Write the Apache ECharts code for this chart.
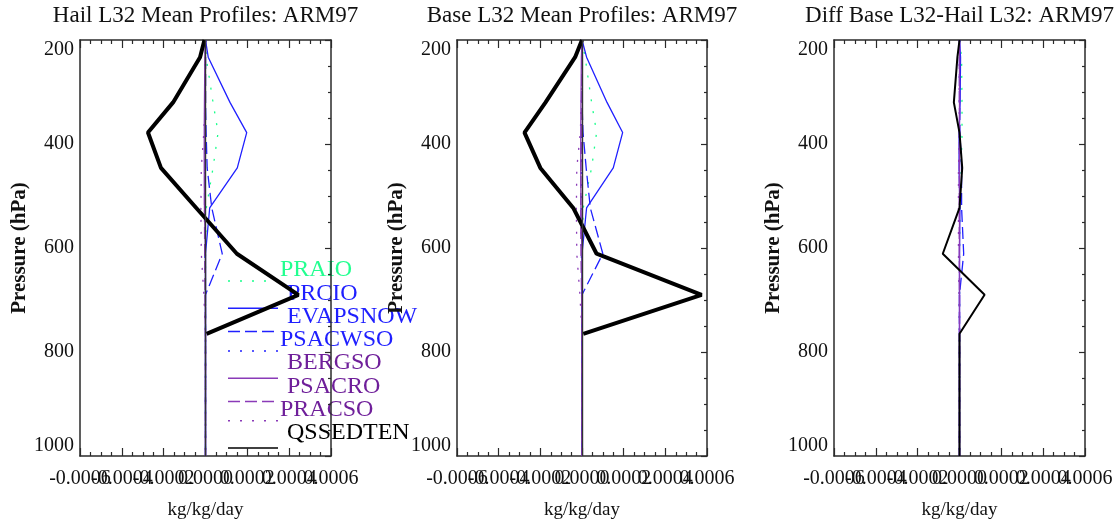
<!DOCTYPE html>
<html>
<head>
<meta charset="utf-8">
<title>ARM97 mean profiles</title>
<script src="https://cdn.jsdelivr.net/npm/echarts@6/dist/echarts.min.js"></script>
<style>
  html, body { margin: 0; padding: 0; background: #fff; }
  #main { width: 1114px; height: 521px; }
</style>
</head>
<body>
<div id="main"></div>
<script>
// pressure levels (hPa) shared by every profile
var pressure = [200, 233, 320, 378, 446, 523, 611, 690, 765, 1000]
var processes = ['PRAIO', 'PRCIO', 'EVAPSNOW', 'PSACWSO', 'BERGSO', 'PSACRO', 'PRACSO', 'QSSEDTEN']
var panelTitles = ['Hail L32 Mean Profiles: ARM97', 'Base L32 Mean Profiles: ARM97', 'Diff Base L32-Hail L32: ARM97']
var xTickLabels = ['-0.0006', '-0.0004', '-0.0002', '0.0000', '0.0002', '0.0004', '0.0006']

// rows follow processes, columns follow pressure (kg/kg/day)
var hailRates = [
  [0, 0.000003, 0.000036, 0.00006, 0.000036, 0.000004, 0, 0, 0, 0],
  [0, 0.000013, 0.000117, 0.000197, 0.000152, 0.00002, 0, 0, 0, 0],
  [0, 0, 0, 0.000003, 0.000008, 0.00003, 0.00008, 0, 0, 0],
  [0, 0, -0.000002, -0.000003, -0.000004, -0.000004, -0.000003, 0, 0, 0],
  [0, -0.000003, -0.000005, -0.000006, -0.000006, -0.000005, 0, 0, 0, 0],
  [0, 0, 0, -0.000002, -0.000004, -0.000005, -0.000004, -0.000002, 0, 0],
  [0, 0, -0.000002, -0.000008, -0.00002, -0.000022, -0.00002, -0.000008, 0, 0],
  [-0.000005, -0.000026, -0.000155, -0.000275, -0.000213, -0.000044, 0.00015, 0.000444, 0.000005, null]
]
var baseRates = [
  [0, 0.000015, 0.000046, 0.00007, 0.000046, 0.000006, 0, 0, 0, 0],
  [0, 0.000022, 0.00012, 0.000195, 0.00015, 0.000022, 0, 0, 0, 0],
  [0, 0, 0, 0.000005, 0.00002, 0.00004, 0.0001, 0, 0, 0],
  [0, 0, -0.000002, -0.000003, -0.000004, -0.000004, -0.000003, 0, 0, 0],
  [0, -0.000003, -0.000005, -0.000006, -0.000006, -0.000005, 0, 0, 0, 0],
  [0, 0, 0, -0.000002, -0.000005, -0.000006, -0.000005, -0.000002, 0, 0],
  [0, 0, -0.000003, -0.000008, -0.000025, -0.000027, -0.000025, -0.00001, 0, 0],
  [0, -0.000033, -0.000175, -0.000276, -0.0002, -0.000042, 0.00007, 0.000574, 0.000006, null]
]
var diffRates = [
  [0, 0.00001, 0.000012, 0.000012, 0.000008, 0.000002, 0, 0, 0, 0],
  [0, 0.000005, 0.000003, -0.000002, -0.000002, 0.000002, 0, 0, 0, 0],
  [0, 0, 0, 0.000002, 0.00001, 0.00001, 0.00002, 0, 0, 0],
  [0, 0, 0, 0, 0, 0, 0, 0, 0, 0],
  [0, 0, 0, 0, 0, 0, 0, 0, 0, 0],
  [0, 0, 0, 0, -0.000001, -0.000001, -0.000001, 0, 0, 0],
  [0, 0, -0.000001, 0, -0.000005, -0.000005, -0.000005, -0.000002, 0, 0],
  [0, -0.00001, -0.000027, 0, 0.000013, 0, -0.00008, 0.00012, 0, 0]
]

var serif = "'Liberation Serif', 'Times New Roman', serif"
var lineColors = ['#19ff8c', '#2020ff', '#2020ff', '#2020ff', '#8a3ab8', '#8a3ab8', '#8a3ab8', '#000000']
var textColors = ['#22ff90', '#1f1fff', '#1f1fff', '#1f1fff', '#6f1f9a', '#6f1f9a', '#6f1f9a', '#000000']
var lineTypes = [[2, 10], 'solid', [12, 5], [2, 10], 'solid', [12, 5], [2, 10], 'solid']
var gridLefts = [80, 457, 834]
var gridWidths = [251, 250, 251]
var axisColor = '#2a2a2a'

var myChart = echarts.init(document.getElementById('main'))
var grid = [], xAxis = [], yAxis = [], title = [], series = []

function xLabel (v, odd) {
  var idx = Math.round(v / 0.0002) + 3
  return idx % 2 == (odd ? 1 : 0) ? xTickLabels[idx] : ''
}

var panels = [hailRates, baseRates, diffRates]
panels.forEach(function (rates, i) {
  grid.push({ left: gridLefts[i], top: 40, width: gridWidths[i], height: 416, containLabel: false, outerBoundsMode: 'none' })
  title.push({
    text: panelTitles[i], left: gridLefts[i] + gridWidths[i] / 2, top: 4, textAlign: 'center', padding: 0,
    textStyle: { fontFamily: serif, fontSize: 23, fontWeight: 'normal', color: '#111' }
  })
  // bottom x axis, even tick labels
  xAxis.push({
    type: 'value', gridIndex: i, position: 'bottom', min: -0.0006, max: 0.0006, interval: 0.0002,
    name: 'kg/kg/day', nameLocation: 'middle', nameGap: 45, nameMoveOverlap: false,
    nameTextStyle: { fontFamily: serif, fontSize: 19, color: '#111' },
    axisLine: { show: true, onZero: false, lineStyle: { color: axisColor, width: 1.5 } },
    axisTick: { show: true, inside: true, length: 8, lineStyle: { color: axisColor, width: 1.2 } },
    minorTick: { show: true, splitNumber: 4, length: 4, lineStyle: { color: axisColor, width: 1.2 } },
    splitLine: { show: false },
    axisLabel: {
      show: true, margin: 13, fontFamily: serif, fontSize: 20, color: '#111',
      showMinLabel: true, showMaxLabel: true, hideOverlap: false,
      formatter: function (v) { return xLabel(v, false) }
    }
  })
  // second bottom axis carrying the odd labels (they overlap in the original)
  xAxis.push({
    type: 'value', gridIndex: i, position: 'bottom', min: -0.0006, max: 0.0006, interval: 0.0002,
    axisLine: { show: false, onZero: false }, axisTick: { show: false }, splitLine: { show: false },
    axisLabel: {
      show: true, margin: 13, fontFamily: serif, fontSize: 20, color: '#111',
      showMinLabel: true, showMaxLabel: true, hideOverlap: false,
      formatter: function (v) { return xLabel(v, true) }
    }
  })
  // top mirror axis
  xAxis.push({
    type: 'value', gridIndex: i, position: 'top', min: -0.0006, max: 0.0006, interval: 0.0002,
    axisLine: { show: true, onZero: false, lineStyle: { color: axisColor, width: 1.5 } },
    axisTick: { show: true, inside: true, length: 8, lineStyle: { color: axisColor, width: 1.2 } },
    minorTick: { show: true, splitNumber: 4, length: 4, lineStyle: { color: axisColor, width: 1.2 } },
    splitLine: { show: false },
    axisLabel: { show: false }
  })
  // left pressure axis
  yAxis.push({
    type: 'value', gridIndex: i, position: 'left', inverse: true, min: 200, max: 1000, interval: 200,
    name: 'Pressure (hPa)', nameLocation: 'middle', nameGap: 50, nameRotate: 90, nameMoveOverlap: false,
    nameTextStyle: { fontFamily: serif, fontSize: 21, fontWeight: 'bold', color: '#111' },
    axisLine: { show: true, onZero: false, lineStyle: { color: axisColor, width: 1.5 } },
    axisTick: { show: false },
    splitLine: { show: false },
    axisLabel: {
      show: true, margin: 6, fontFamily: serif, fontSize: 20, color: '#111',
      showMinLabel: true, showMaxLabel: true,
      verticalAlignMinLabel: 'top', verticalAlignMaxLabel: 'bottom',
      formatter: function (v) { return String(v) }
    }
  })
  // right mirror axis
  yAxis.push({
    type: 'value', gridIndex: i, position: 'right', inverse: true, min: 200, max: 1000, interval: 200,
    axisLine: { show: true, onZero: false, lineStyle: { color: axisColor, width: 1.5 } },
    axisTick: { show: true, inside: true, length: 6, lineStyle: { color: axisColor, width: 1.2 } },
    minorTick: { show: true, splitNumber: 4, length: 3, lineStyle: { color: axisColor, width: 1.2 } },
    splitLine: { show: false },
    axisLabel: { show: false }
  })
  rates.forEach(function (row, k) {
    var s = {
      name: processes[k], type: 'line', xAxisIndex: 3 * i, yAxisIndex: 2 * i,
      symbol: 'none', silent: true, animation: false,
      data: pressure.map(function (p, j) { return [row[j], p] }),
      lineStyle: { color: lineColors[k], type: lineTypes[k], width: k == 7 ? (i == 2 ? 2 : 4) : 1.3 },
      z: k == 7 ? 3 : (k == 0 ? 1 : 2)
    }
    // thin zero reference line kept under the profiles (hail and base panels)
    if (k == 0 && i < 2) {
      s.markLine = {
        silent: true, symbol: 'none', label: { show: false }, animation: false,
        lineStyle: { color: '#333', type: 'solid', width: 1.4 },
        data: [{ xAxis: 0 }]
      }
    }
    series.push(s)
  })
})

// legend drawn like the original: sample line under each label
var graphic = processes.map(function (name, k) {
  var ty = 270 + k * 23.3
  var dotted = k % 3 == 0
  var sy = ty + (dotted ? 11 : 15)
  var dash = lineTypes[k] == 'solid' ? null : lineTypes[k]
  return {
    type: 'group', z: 10,
    children: [
      { type: 'line', shape: { x1: 228, y1: sy, x2: 278, y2: sy }, style: { stroke: lineColors[k], lineWidth: 1.5, lineDash: dash } },
      { type: 'text', x: dotted ? 280 : 287, y: ty, style: { text: name, fill: textColors[k], font: '24px ' + serif, verticalAlign: 'middle' } }
    ]
  }
})

myChart.setOption({
  animation: false,
  backgroundColor: '#fff',
  title: title,
  grid: grid,
  xAxis: xAxis,
  yAxis: yAxis,
  series: series,
  graphic: graphic
})
</script>
</body>
</html>
